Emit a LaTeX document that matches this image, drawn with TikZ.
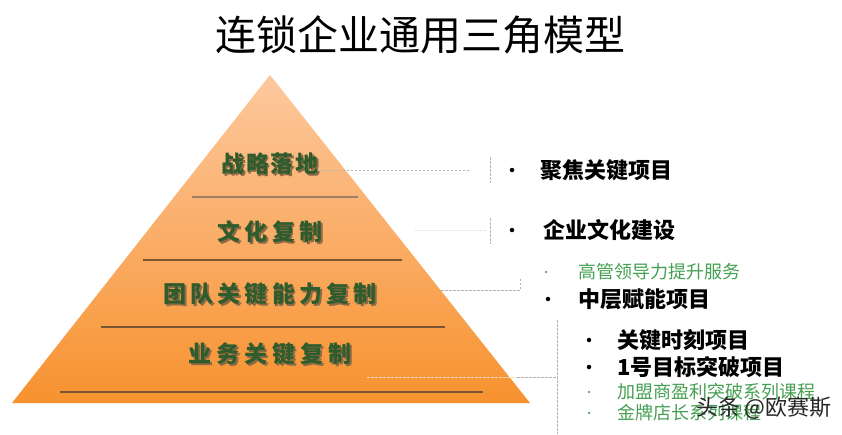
\documentclass[tikz,border=0pt]{standalone}
\usepackage{fontspec}
\setmainfont{Noto Sans CJK SC}
\newfontfamily\cjk{Noto Sans CJK SC}
\definecolor{pyrtop}{HTML}{FDC89E}
\definecolor{pyrbot}{HTML}{F7922F}
\definecolor{labgreen}{HTML}{2F5C2C}
\definecolor{labshadow}{HTML}{8C6A45}
\definecolor{divline}{HTML}{7A5532}
\definecolor{itemgreen}{HTML}{45A052}
\definecolor{dashgray}{HTML}{B4B4B4}
\newcommand\shtext[1]{\makebox[0pt][l]{\hspace{1.8pt}\raisebox{-1.8pt}{\textcolor{labshadow}{#1}}}#1}
\tikzset{
  pyrlabel/.style={font=\cjk\bfseries\fontsize{23}{23}\selectfont\addfontfeature{LetterSpace=#1}, text=labgreen, inner sep=0pt},
  divider/.style={draw=divline, line width=1.4pt},
  bigitem/.style={font=\cjk\bfseries\fontsize{22}{22}\selectfont, text=black, anchor=west, inner sep=0pt},
  smallitem/.style={font=\cjk\fontsize{18}{18}\selectfont, text=itemgreen, anchor=west, inner sep=0pt},
  bigdot/.style={circle, fill=black, inner sep=0pt, minimum size=4.5pt},
  smalldot/.style={circle, fill=itemgreen, inner sep=0pt, minimum size=2.5pt},
  dashline/.style={draw=dashgray, line width=0.7pt, dash pattern=on 2.5pt off 1.5pt}
}
\begin{document}
\begin{tikzpicture}[x=1pt,y=-1pt]
\useasboundingbox (0,0) rectangle (842,434);
\fill[white] (0,0) rectangle (842,434);
% title
\node[font=\cjk\fontsize{41}{41}\selectfont, inner sep=0pt] (title) at (420,35) {连锁企业通用三角模型};
% pyramid
\coordinate (apex) at (270,75);
\coordinate (bl) at (12,403);
\coordinate (br) at (530,403);
\shade[top color=pyrtop, bottom color=pyrbot] (apex) -- (br) -- (bl) -- cycle;
% dividers
\draw[divider, line width=2.6pt, draw=divline!75] (192,197) -- (358,197);
\draw[divider] (143,260) -- (402,260);
\draw[divider] (101,327) -- (445,327);
\draw[divider] (60,392) -- (483,392);
% labels with shadow
\node[pyrlabel=8] (l1) at (270,165) {\shtext{战略落地}};
\node[pyrlabel=18] (l2) at (270,233) {\shtext{文化复制}};
\node[pyrlabel=18] (l3) at (270,295) {\shtext{团队关键能力复制}};
\node[pyrlabel=22] (l4) at (270,355) {\shtext{业务关键复制}};
% dashed connectors
\coordinate (h1) at (470,170);
\coordinate (v1a) at (490,157);
\coordinate (v1b) at (490,183);
\draw[dashline] (l1.east |- h1) -- (h1);
\draw[dashline] (v1a) -- (v1b);
\coordinate (h2a) at (415,230);
\coordinate (h2) at (486,230);
\coordinate (v2a) at (490,218);
\coordinate (v2b) at (490,244);
\draw[dashline, draw=black!10] (h2a) -- (h2);
\draw[dashline] (v2a) -- (v2b);
\coordinate (h3a) at (441,290);
\coordinate (h3) at (520,290);
\coordinate (v3a) at (520,277);
\draw[dashline] (h3a) -- (h3) -- (v3a);
\coordinate (h4a) at (367,377);
\coordinate (h4m) at (517,377);
\coordinate (h4) at (557,377);
\coordinate (v4a) at (557,320);
\coordinate (v4b) at (557,434);
\draw[dashline, draw=pyrtop!70!white] (h4a) -- (h4m);
\draw[dashline] (h4m) -- (h4);
\draw[dashline] (v4a) -- (v4b);
% right items
\node[bigdot] (d1) at (512,170) {};
\node[bigitem] (t1) at (540,170) {聚焦关键项目};
\node[bigdot] (d2) at (512,230) {};
\node[bigitem] (t2) at (543,230) {企业文化建设};
\node[smalldot] (d3) at (546,272) {};
\node[smallitem] (t3) at (578,272) {高管领导力提升服务};
\node[bigdot] (d4) at (548,299) {};
\node[bigitem] (t4) at (578,299) {中层赋能项目};
\node[bigdot] (d5) at (589,340) {};
\node[bigitem] (t5) at (617,340) {关键时刻项目};
\node[bigdot] (d6) at (589,367) {};
\node[bigitem] (t6) at (617,367) {1号目标突破项目};
\node[smalldot] (d7) at (589,392) {};
\node[smallitem] (t7) at (617,392) {加盟商盈利突破系列课程};
\node[smalldot] (d8) at (589,413) {};
\node[smallitem] (t8) at (617,413) {金牌店长系列课程};
% watermark
\node[font=\cjk\fontsize{22}{22}\selectfont, text=black!85, anchor=east, inner sep=0pt] (wm) at (832,408) {头条 @欧赛斯};
\end{tikzpicture}
\end{document}
